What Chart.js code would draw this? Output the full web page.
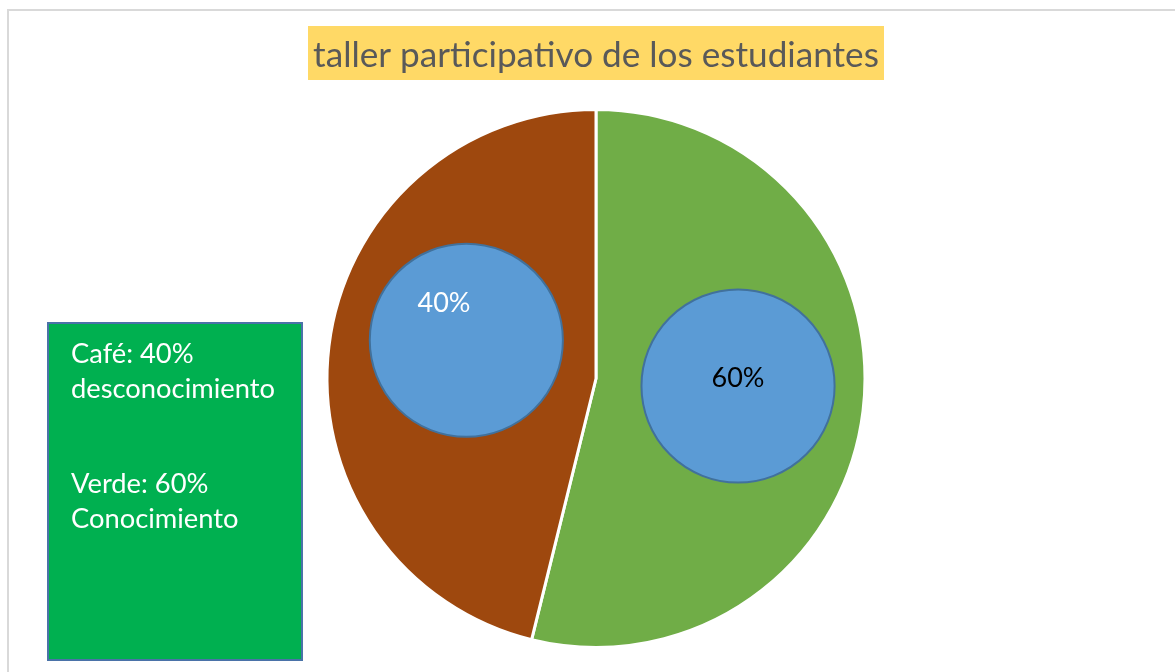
<!DOCTYPE html>
<html lang="es">
<head>
<meta charset="utf-8">
<title>taller participativo de los estudiantes</title>
<script src="https://cdn.jsdelivr.net/npm/chart.js@4.4.1/dist/chart.umd.min.js"></script>
<style>
  html, body { margin: 0; padding: 0; background: #fff; }
  canvas { display: block; }
</style>
</head>
<body>
<canvas id="grafico" width="1175" height="672"></canvas>
<script>
// datos del grafico
const categorias = ['Conocimiento', 'Desconocimiento'];
const valores = [7, 6];
const coloresSectores = ['#70AD47', '#9E480E'];

const titulo = 'taller participativo de los estudiantes';
const etiquetasCirculos = ['60%', '40%'];
const notas = [['Café: 40%', 'desconocimiento'], ['Verde: 60%', 'Conocimiento']];

const FUENTE = 'Lato, "Open Sans", sans-serif';

// busca el tamaño de letra que da un ancho dado
function ajustarFuente(ctx, texto, ancho) {
    let size = 10;
    ctx.font = size + 'px ' + FUENTE;
    const w = ctx.measureText(texto).width;
    size = size * ancho / w;
    return size.toFixed(2) + 'px ' + FUENTE;
}

const decoracion = {
    id: 'decoracion',
    beforeDraw(chart) {
        const ctx = chart.ctx;
        ctx.save();
        ctx.fillStyle = '#fff';
        ctx.fillRect(0, 0, chart.width, chart.height);

        // marco gris
        ctx.strokeStyle = '#D9D9D9';
        ctx.lineWidth = 2;
        ctx.strokeRect(8, 10, chart.width + 20, chart.height + 20);

        // titulo con fondo amarillo
        ctx.fillStyle = '#FFD966';
        ctx.fillRect(308, 26, 576, 54);
        ctx.font = ajustarFuente(ctx, titulo, 566);
        ctx.fillStyle = '#595959';
        ctx.textAlign = 'center';
        ctx.textBaseline = 'alphabetic';
        ctx.fillText(titulo, 596, 67);

        // cuadro verde con notas
        ctx.fillStyle = '#00B050';
        ctx.fillRect(48, 323, 254, 337);
        ctx.strokeStyle = '#4A72A8';
        ctx.lineWidth = 2;
        ctx.strokeRect(48, 323, 254, 337);
        ctx.font = ajustarFuente(ctx, 'desconocimiento', 204);
        ctx.fillStyle = '#fff';
        ctx.textAlign = 'left';
        const inicios = [363, 493];
        notas.forEach((grupo, g) => {
            grupo.forEach((linea, i) => ctx.fillText(linea, 71, inicios[g] + i * 35));
        });
        ctx.restore();
    },
    afterDatasetsDraw(chart) {
        const ctx = chart.ctx;
        const arcs = chart.getDatasetMeta(0).data;
        const cx = arcs[0].x, cy = arcs[0].y, R = arcs[0].outerRadius;
        // circulos azules (posicion relativa al pastel)
        const circulos = [
            { dx: 0.528, dy: 0.028, tx: 0.0, ty: 0.004, color: '#000' },
            { dx: -0.482, dy: -0.142, tx: -0.083, ty: -0.106, color: '#fff' }
        ];
        ctx.save();
        ctx.font = '27px ' + FUENTE;
        ctx.textAlign = 'center';
        ctx.textBaseline = 'alphabetic';
        circulos.forEach((c, i) => {
            const x = cx + c.dx * R, y = cy + c.dy * R;
            ctx.beginPath();
            ctx.arc(x, y, 0.359 * R, 0, Math.PI * 2);
            ctx.fillStyle = '#5B9BD5';
            ctx.fill();
            ctx.lineWidth = 2;
            ctx.strokeStyle = '#41719C';
            ctx.stroke();
            ctx.fillStyle = c.color;
            ctx.fillText(etiquetasCirculos[i], x + c.tx * R, y + c.ty * R);
        });
        ctx.restore();
    }
};

const ctx = document.getElementById('grafico').getContext('2d');
const chart = new Chart(ctx, {
    type: 'pie',
    data: {
        labels: categorias,
        datasets: [{
            data: valores,
            backgroundColor: coloresSectores,
            borderColor: '#fff',
            borderWidth: 3,
            hoverOffset: 0,
            offset: 0
        }]
    },
    options: {
        responsive: false,
        animation: false,
        events: [],
        layout: { padding: { top: 108, bottom: 23, left: 100, right: 83 } },
        plugins: {
            legend: { display: false },
            tooltip: { enabled: false },
            title: { display: false }
        }
    },
    plugins: [decoracion]
});
</script>
</body>
</html>
